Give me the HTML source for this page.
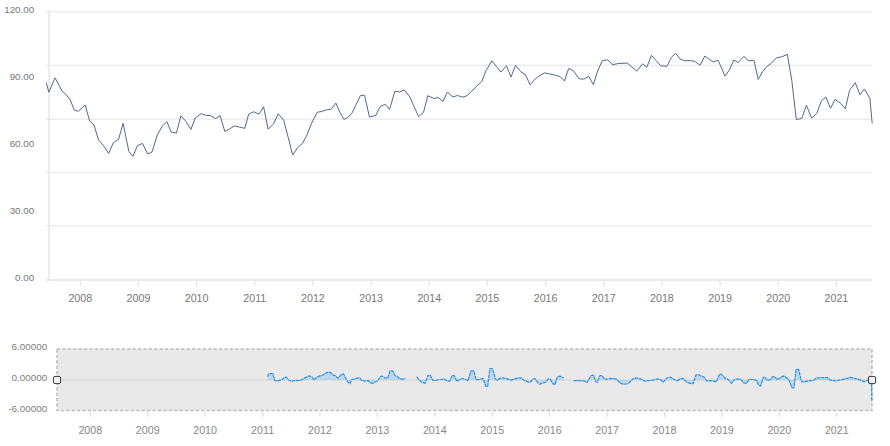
<!DOCTYPE html>
<html><head><meta charset="utf-8"><style>
html,body{margin:0;padding:0;background:#fff;}
body{width:890px;height:446px;overflow:hidden;font-family:"Liberation Sans",sans-serif;}
svg{display:block}
text{font-family:"Liberation Sans",sans-serif;}
.yl{font-size:9.8px;fill:#777;text-anchor:end}
.xl{font-size:10.7px;fill:#777;text-anchor:middle}
.syl{font-size:9.9px;fill:#7d7d7d;text-anchor:end}
.sxl{font-size:10.7px;fill:#888;text-anchor:middle}
</style></head><body>
<svg width="890" height="446" viewBox="0 0 890 446">
<rect width="890" height="446" fill="#fff"/>

<line x1="46" x2="872.2" y1="11.8" y2="11.8" stroke="#e9e9e9" stroke-width="1.2"/>
<line x1="46" x2="872.2" y1="65.4" y2="65.4" stroke="#e9e9e9" stroke-width="1.2"/>
<line x1="46" x2="872.2" y1="119.2" y2="119.2" stroke="#e9e9e9" stroke-width="1.2"/>
<line x1="46" x2="872.2" y1="172.5" y2="172.5" stroke="#e9e9e9" stroke-width="1.2"/>
<line x1="46" x2="872.2" y1="226.1" y2="226.1" stroke="#e9e9e9" stroke-width="1.2"/>
<line x1="46" x2="872.2" y1="280.1" y2="280.1" stroke="#e4e4e4" stroke-width="1.5"/>
<line x1="49.1" x2="49.1" y1="10.3" y2="281.5" stroke="#e6e6e6" stroke-width="1.5"/>
<line x1="80.3" x2="80.3" y1="280" y2="286" stroke="#e4e4e4" stroke-width="1.2"/>
<text class="xl" x="80.3" y="302">2008</text>
<line x1="138.5" x2="138.5" y1="280" y2="286" stroke="#e4e4e4" stroke-width="1.2"/>
<text class="xl" x="138.5" y="302">2009</text>
<line x1="196.6" x2="196.6" y1="280" y2="286" stroke="#e4e4e4" stroke-width="1.2"/>
<text class="xl" x="196.6" y="302">2010</text>
<line x1="254.8" x2="254.8" y1="280" y2="286" stroke="#e4e4e4" stroke-width="1.2"/>
<text class="xl" x="254.8" y="302">2011</text>
<line x1="312.9" x2="312.9" y1="280" y2="286" stroke="#e4e4e4" stroke-width="1.2"/>
<text class="xl" x="312.9" y="302">2012</text>
<line x1="371.1" x2="371.1" y1="280" y2="286" stroke="#e4e4e4" stroke-width="1.2"/>
<text class="xl" x="371.1" y="302">2013</text>
<line x1="429.3" x2="429.3" y1="280" y2="286" stroke="#e4e4e4" stroke-width="1.2"/>
<text class="xl" x="429.3" y="302">2014</text>
<line x1="487.4" x2="487.4" y1="280" y2="286" stroke="#e4e4e4" stroke-width="1.2"/>
<text class="xl" x="487.4" y="302">2015</text>
<line x1="545.6" x2="545.6" y1="280" y2="286" stroke="#e4e4e4" stroke-width="1.2"/>
<text class="xl" x="545.6" y="302">2016</text>
<line x1="603.7" x2="603.7" y1="280" y2="286" stroke="#e4e4e4" stroke-width="1.2"/>
<text class="xl" x="603.7" y="302">2017</text>
<line x1="661.9" x2="661.9" y1="280" y2="286" stroke="#e4e4e4" stroke-width="1.2"/>
<text class="xl" x="661.9" y="302">2018</text>
<line x1="720.1" x2="720.1" y1="280" y2="286" stroke="#e4e4e4" stroke-width="1.2"/>
<text class="xl" x="720.1" y="302">2019</text>
<line x1="778.2" x2="778.2" y1="280" y2="286" stroke="#e4e4e4" stroke-width="1.2"/>
<text class="xl" x="778.2" y="302">2020</text>
<line x1="836.4" x2="836.4" y1="280" y2="286" stroke="#e4e4e4" stroke-width="1.2"/>
<text class="xl" x="836.4" y="302">2021</text>
<text class="yl" x="34.2" y="12.9">120.00</text>
<text class="yl" x="34.2" y="79.9">90.00</text>
<text class="yl" x="34.2" y="146.9">60.00</text>
<text class="yl" x="34.2" y="213.9">30.00</text>
<text class="yl" x="34.2" y="280.9">0.00</text>
<path d="M46.3,82.7 L48.8,92.2 L55.1,77.9 L62.1,91.2 L65.1,93.5 L70.1,99.5 L74.2,110.0 L78.4,111.3 L85.2,105.0 L89.7,121.1 L94.0,124.9 L98.5,139.9 L104.0,146.2 L108.6,153.5 L113.3,142.9 L118.6,139.2 L123.1,123.4 L128.9,151.5 L132.9,156.3 L137.4,145.7 L142.5,143.4 L147.7,154.0 L152.0,152.0 L157.3,134.9 L162.3,126.1 L166.8,121.6 L171.3,132.1 L176.4,133.1 L180.9,115.8 L185.9,121.3 L190.9,129.4 L195.2,118.1 L201.2,113.6 L205.7,115.3 L210.3,115.6 L215.8,118.6 L220.1,115.6 L224.8,131.4 L229.6,128.9 L234.6,125.9 L239.6,127.1 L244.7,128.4 L248.7,114.1 L253.5,111.8 L253.5,111.8 L259.0,114.1 L259.2,113.8 L263.6,106.8 L268.1,129.1 L273.6,123.9 L278.1,113.8 L283.7,120.1 L288.2,137.4 L292.7,155.0 L297.7,147.5 L302.2,143.7 L306.5,136.2 L311.3,123.9 L317.1,112.3 L321.6,111.5 L326.6,109.8 L331.1,109.3 L335.9,103.0 L339.9,112.3 L343.9,119.3 L346.9,118.1 L351.7,113.6 L356.2,104.3 L360.5,95.5 L364.5,95.2 L369.5,117.1 L375.8,115.3 L380.3,106.5 L385.1,104.3 L389.6,109.3 L394.9,91.2 L399.7,92.0 L404.2,89.7 L410.0,97.2 L414.2,106.8 L418.5,116.6 L423.5,112.3 L427.8,95.7 L433.8,98.5 L438.3,97.5 L442.9,101.5 L447.4,92.0 L452.9,97.0 L457.4,95.5 L463.0,97.2 L467.0,95.7 L471.6,91.2 L476.6,86.4 L481.6,81.7 L486.1,70.4 L491.9,60.8 L496.7,66.8 L500.9,72.1 L506.5,65.8 L511.0,77.1 L515.5,65.3 L521.0,71.9 L525.3,74.6 L530.1,84.7 L535.3,78.9 L539.9,75.6 L544.4,72.9 L549.4,73.9 L554.4,74.9 L559.9,76.6 L564.5,80.9 L568.7,68.4 L573.5,70.9 L579.0,78.7 L583.6,79.2 L588.8,76.4 L593.4,84.7 L597.9,70.1 L602.4,60.6 L607.9,59.8 L612.4,64.8 L617.7,63.6 L622.0,63.3 L627.0,63.1 L632.0,67.1 L636.8,71.1 L642.6,63.8 L646.8,67.4 L651.4,55.3 L656.1,60.6 L660.7,65.8 L666.9,66.3 L667.0,66.3 L671.5,57.1 L675.8,53.3 L680.1,59.1 L684.6,60.8 L690.1,60.6 L694.6,61.3 L700.1,65.1 L704.9,56.0 L709.2,59.3 L713.2,61.8 L718.2,60.3 L725.0,76.1 L729.3,70.1 L733.8,60.1 L738.3,62.6 L743.8,56.3 L748.4,60.6 L753.9,60.3 L758.2,79.4 L762.7,71.4 L766.9,66.6 L771.5,63.1 L776.5,57.8 L781.8,56.8 L787.3,54.3 L791.8,80.4 L796.3,119.6 L801.9,118.3 L806.4,105.3 L811.7,118.1 L816.7,113.6 L821.4,100.8 L826.0,97.2 L830.5,108.3 L835.0,99.5 L840.3,103.0 L845.3,108.8 L849.6,90.2 L855.3,82.7 L859.9,94.7 L864.4,88.9 L869.9,98.5 L872.2,123.4" fill="none" stroke="#4f6a8c" stroke-width="1" stroke-linejoin="round"/>
<rect x="57" y="348.9" width="815" height="61.7" fill="#e9e9e9" stroke="#bcbcbc" stroke-width="1.5" stroke-dasharray="3.2,2.2"/>
<line x1="57" x2="872" y1="380" y2="380" stroke="#dadada" stroke-width="1.3"/>
<line x1="90.3" x2="90.3" y1="412" y2="416.8" stroke="#dcdcdc" stroke-width="1.2"/>
<text class="sxl" x="90.3" y="434">2008</text>
<line x1="147.7" x2="147.7" y1="412" y2="416.8" stroke="#dcdcdc" stroke-width="1.2"/>
<text class="sxl" x="147.7" y="434">2009</text>
<line x1="205.1" x2="205.1" y1="412" y2="416.8" stroke="#dcdcdc" stroke-width="1.2"/>
<text class="sxl" x="205.1" y="434">2010</text>
<line x1="262.6" x2="262.6" y1="412" y2="416.8" stroke="#dcdcdc" stroke-width="1.2"/>
<text class="sxl" x="262.6" y="434">2011</text>
<line x1="320.0" x2="320.0" y1="412" y2="416.8" stroke="#dcdcdc" stroke-width="1.2"/>
<text class="sxl" x="320.0" y="434">2012</text>
<line x1="377.4" x2="377.4" y1="412" y2="416.8" stroke="#dcdcdc" stroke-width="1.2"/>
<text class="sxl" x="377.4" y="434">2013</text>
<line x1="434.8" x2="434.8" y1="412" y2="416.8" stroke="#dcdcdc" stroke-width="1.2"/>
<text class="sxl" x="434.8" y="434">2014</text>
<line x1="492.2" x2="492.2" y1="412" y2="416.8" stroke="#dcdcdc" stroke-width="1.2"/>
<text class="sxl" x="492.2" y="434">2015</text>
<line x1="549.7" x2="549.7" y1="412" y2="416.8" stroke="#dcdcdc" stroke-width="1.2"/>
<text class="sxl" x="549.7" y="434">2016</text>
<line x1="607.1" x2="607.1" y1="412" y2="416.8" stroke="#dcdcdc" stroke-width="1.2"/>
<text class="sxl" x="607.1" y="434">2017</text>
<line x1="664.5" x2="664.5" y1="412" y2="416.8" stroke="#dcdcdc" stroke-width="1.2"/>
<text class="sxl" x="664.5" y="434">2018</text>
<line x1="721.9" x2="721.9" y1="412" y2="416.8" stroke="#dcdcdc" stroke-width="1.2"/>
<text class="sxl" x="721.9" y="434">2019</text>
<line x1="779.3" x2="779.3" y1="412" y2="416.8" stroke="#dcdcdc" stroke-width="1.2"/>
<text class="sxl" x="779.3" y="434">2020</text>
<line x1="836.8" x2="836.8" y1="412" y2="416.8" stroke="#dcdcdc" stroke-width="1.2"/>
<text class="sxl" x="836.8" y="434">2021</text>
<text class="syl" x="47.3" y="350.0">6.00000</text>
<text class="syl" x="47.3" y="381.0">0.00000</text>
<text class="syl" x="47.3" y="412.0">-6.00000</text>
<path d="M267.4,376.6 L269.2,373.5 L272.8,373.5 L274.8,380.6 L276.9,380.9 L281.6,379.9 L284.3,377.5 L286.3,377.2 L289.0,380.2 L291.7,381.5 L295.1,380.3 L299.8,380.6 L303.1,378.9 L306.5,377.1 L309.2,375.9 L311.9,376.8 L314.2,380.2 L316.6,377.1 L320.0,375.9 L323.4,374.8 L326.7,372.5 L330.1,372.2 L332.8,374.8 L335.5,375.9 L338.2,378.2 L341.6,374.1 L343.6,373.9 L346.3,379.5 L348.3,382.5 L350.1,383.6 L351.7,379.5 L354.4,378.9 L357.7,377.9 L359.8,377.9 L361.8,380.6 L364.5,381.1 L367.9,380.6 L370.6,382.9 L373.3,383.3 L375.0,382.0 L377.0,381.5 L380.4,376.6 L382.4,376.2 L385.1,377.9 L387.8,378.2 L390.1,370.8 L392.5,370.8 L395.0,375.5 L397.2,376.6 L399.9,378.9 L402.6,379.1 L405.3,378.4 L405.3,380.0 L267.4,380.0 Z" fill="#8fc4ef" fill-opacity="0.45" stroke="none"/>
<path d="M267.4,376.6 L269.2,373.5 L272.8,373.5 L274.8,380.6 L276.9,380.9 L281.6,379.9 L284.3,377.5 L286.3,377.2 L289.0,380.2 L291.7,381.5 L295.1,380.3 L299.8,380.6 L303.1,378.9 L306.5,377.1 L309.2,375.9 L311.9,376.8 L314.2,380.2 L316.6,377.1 L320.0,375.9 L323.4,374.8 L326.7,372.5 L330.1,372.2 L332.8,374.8 L335.5,375.9 L338.2,378.2 L341.6,374.1 L343.6,373.9 L346.3,379.5 L348.3,382.5 L350.1,383.6 L351.7,379.5 L354.4,378.9 L357.7,377.9 L359.8,377.9 L361.8,380.6 L364.5,381.1 L367.9,380.6 L370.6,382.9 L373.3,383.3 L375.0,382.0 L377.0,381.5 L380.4,376.6 L382.4,376.2 L385.1,377.9 L387.8,378.2 L390.1,370.8 L392.5,370.8 L395.0,375.5 L397.2,376.6 L399.9,378.9 L402.6,379.1 L405.3,378.4" fill="none" stroke="#2f94e4" stroke-width="1.25" stroke-linejoin="round" stroke-dasharray="3.6,0.7"/>
<path d="M416.8,376.6 L418.8,379.5 L421.5,382.0 L425.2,383.3 L427.9,375.5 L430.3,375.2 L432.7,380.2 L435.0,380.6 L439.7,379.5 L444.4,379.3 L447.1,381.1 L449.8,381.1 L452.1,375.5 L454.3,375.5 L457.0,381.5 L459.9,379.3 L462.6,378.4 L465.3,379.5 L468.0,380.6 L471.0,370.8 L473.7,370.8 L476.1,379.8 L479.5,379.3 L482.9,378.4 L485.6,386.3 L487.6,386.5 L489.9,368.7 L490.0,368.7 L492.4,368.7 L495.4,378.9 L497.4,380.2 L500.1,378.2 L502.8,377.9 L507.5,378.9 L510.9,380.2 L514.9,378.9 L519.0,377.9 L521.3,377.9 L524.4,380.6 L528.4,382.2 L530.4,382.0 L533.1,378.9 L535.2,378.9 L537.9,382.9 L539.9,384.2 L543.3,382.9 L546.0,382.0 L548.2,378.9 L550.0,378.9 L552.7,383.6 L555.0,384.7 L557.4,376.6 L560.1,376.2 L563.5,377.9 L563.5,380.0 L416.8,380.0 Z" fill="#8fc4ef" fill-opacity="0.45" stroke="none"/>
<path d="M416.8,376.6 L418.8,379.5 L421.5,382.0 L425.2,383.3 L427.9,375.5 L430.3,375.2 L432.7,380.2 L435.0,380.6 L439.7,379.5 L444.4,379.3 L447.1,381.1 L449.8,381.1 L452.1,375.5 L454.3,375.5 L457.0,381.5 L459.9,379.3 L462.6,378.4 L465.3,379.5 L468.0,380.6 L471.0,370.8 L473.7,370.8 L476.1,379.8 L479.5,379.3 L482.9,378.4 L485.6,386.3 L487.6,386.5 L489.9,368.7 L490.0,368.7 L492.4,368.7 L495.4,378.9 L497.4,380.2 L500.1,378.2 L502.8,377.9 L507.5,378.9 L510.9,380.2 L514.9,378.9 L519.0,377.9 L521.3,377.9 L524.4,380.6 L528.4,382.2 L530.4,382.0 L533.1,378.9 L535.2,378.9 L537.9,382.9 L539.9,384.2 L543.3,382.9 L546.0,382.0 L548.2,378.9 L550.0,378.9 L552.7,383.6 L555.0,384.7 L557.4,376.6 L560.1,376.2 L563.5,377.9" fill="none" stroke="#2f94e4" stroke-width="1.25" stroke-linejoin="round" stroke-dasharray="3.6,0.7"/>
<path d="M573.6,380.9 L579.0,380.6 L583.7,380.9 L587.1,382.5 L591.1,375.5 L593.5,375.2 L595.8,381.5 L597.2,382.5 L599.9,375.5 L601.9,375.5 L604.6,378.9 L605.0,379.5 L609.7,378.4 L614.4,378.7 L617.1,379.3 L619.6,382.9 L623.2,384.2 L626.6,384.0 L629.9,382.2 L633.3,378.4 L636.0,377.9 L640.7,378.9 L644.1,381.1 L648.1,380.6 L652.9,380.2 L657.6,378.9 L660.3,379.5 L663.2,382.2 L667.0,377.9 L670.4,377.1 L673.8,379.3 L677.1,380.9 L681.2,378.4 L683.5,378.7 L686.6,382.2 L689.9,383.3 L693.3,383.6 L696.0,374.8 L698.7,374.8 L701.4,376.2 L704.1,377.1 L706.8,381.1 L710.2,380.6 L712.9,380.9 L716.2,382.0 L719.6,374.1 L721.3,374.1 L724.7,377.9 L728.1,379.5 L731.5,383.3 L734.2,379.8 L737.5,378.9 L740.9,379.5 L743.6,382.9 L746.3,383.3 L749.4,379.3 L753.0,379.5 L756.4,380.3 L758.8,385.6 L760.7,386.0 L763.4,377.1 L765.2,377.5 L767.2,380.2 L769.6,380.2 L772.6,376.6 L774.6,376.6 L777.3,379.8 L782.7,376.2 L785.4,376.6 L788.8,379.8 L792.1,387.9 L793.9,387.6 L796.2,369.4 L798.6,369.4 L801.3,380.9 L803.3,382.2 L808.3,380.9 L813.7,380.2 L816.4,377.9 L827.2,377.5 L829.9,379.8 L834.6,380.9 L835.4,380.8 L841.8,379.7 L847.7,378.1 L849.9,377.4 L852.6,377.9 L858.0,379.2 L862.3,380.8 L864.4,381.6 L867.1,380.5 L868.7,379.7 L871.3,381.5 L871.6,384.0 L871.8,401.3 L871.8,380.0 L573.6,380.0 Z" fill="#8fc4ef" fill-opacity="0.45" stroke="none"/>
<path d="M573.6,380.9 L579.0,380.6 L583.7,380.9 L587.1,382.5 L591.1,375.5 L593.5,375.2 L595.8,381.5 L597.2,382.5 L599.9,375.5 L601.9,375.5 L604.6,378.9 L605.0,379.5 L609.7,378.4 L614.4,378.7 L617.1,379.3 L619.6,382.9 L623.2,384.2 L626.6,384.0 L629.9,382.2 L633.3,378.4 L636.0,377.9 L640.7,378.9 L644.1,381.1 L648.1,380.6 L652.9,380.2 L657.6,378.9 L660.3,379.5 L663.2,382.2 L667.0,377.9 L670.4,377.1 L673.8,379.3 L677.1,380.9 L681.2,378.4 L683.5,378.7 L686.6,382.2 L689.9,383.3 L693.3,383.6 L696.0,374.8 L698.7,374.8 L701.4,376.2 L704.1,377.1 L706.8,381.1 L710.2,380.6 L712.9,380.9 L716.2,382.0 L719.6,374.1 L721.3,374.1 L724.7,377.9 L728.1,379.5 L731.5,383.3 L734.2,379.8 L737.5,378.9 L740.9,379.5 L743.6,382.9 L746.3,383.3 L749.4,379.3 L753.0,379.5 L756.4,380.3 L758.8,385.6 L760.7,386.0 L763.4,377.1 L765.2,377.5 L767.2,380.2 L769.6,380.2 L772.6,376.6 L774.6,376.6 L777.3,379.8 L782.7,376.2 L785.4,376.6 L788.8,379.8 L792.1,387.9 L793.9,387.6 L796.2,369.4 L798.6,369.4 L801.3,380.9 L803.3,382.2 L808.3,380.9 L813.7,380.2 L816.4,377.9 L827.2,377.5 L829.9,379.8 L834.6,380.9 L835.4,380.8 L841.8,379.7 L847.7,378.1 L849.9,377.4 L852.6,377.9 L858.0,379.2 L862.3,380.8 L864.4,381.6 L867.1,380.5 L868.7,379.7 L871.3,381.5 L871.6,384.0 L871.8,401.3" fill="none" stroke="#2f94e4" stroke-width="1.25" stroke-linejoin="round" stroke-dasharray="3.6,0.7"/>
<rect x="53.4" y="376.4" width="7.2" height="7.2" rx="1.6" fill="#f0f0f0" stroke="#3a3a3a" stroke-width="1"/>
<rect x="868.4" y="376.4" width="7.2" height="7.2" rx="1.6" fill="#f0f0f0" stroke="#3a3a3a" stroke-width="1"/>
</svg></body></html>
